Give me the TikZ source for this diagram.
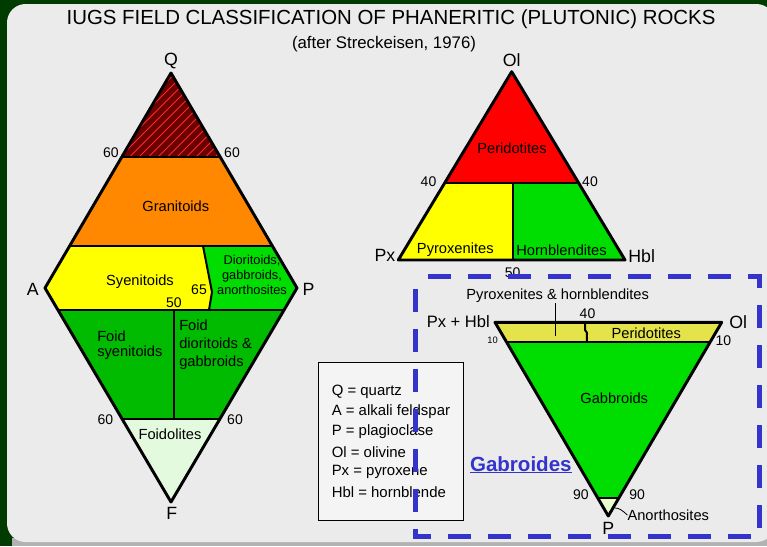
\documentclass[tikz,border=0pt]{standalone}
\usepackage{fontspec}
\setmainfont{Liberation Sans}
\definecolor{bggreen}{HTML}{003C00}
\definecolor{panel}{HTML}{EBEBEB}
\definecolor{qred}{HTML}{6A0000}
\definecolor{hatchred}{HTML}{FF2A2A}
\definecolor{granit}{HTML}{FF8800}
\definecolor{yel}{HTML}{FFFF00}
\definecolor{brightgreen}{HTML}{00DD00}
\definecolor{foidgreen}{HTML}{00BB00}
\definecolor{palegreen}{HTML}{E4FADF}
\definecolor{olivey}{HTML}{E4E44A}
\definecolor{anorcol}{HTML}{EAFFCC}
\definecolor{dashblue}{HTML}{3434CC}
\definecolor{legendbg}{HTML}{F4F4F4}
\begin{document}
\begin{tikzpicture}[x=0.75pt,y=-0.75pt,
  outline/.style={draw=black,line width=2.2pt,line join=round},
  divider/.style={draw=black,line width=1.5pt},
  lbl/.style={inner sep=0pt,font=\fontsize{11}{13}\selectfont},
  smalllbl/.style={inner sep=0pt,font=\fontsize{9.6}{11.2}\selectfont},
  corner/.style={inner sep=0pt,font=\fontsize{13.3}{15}\selectfont},
  num/.style={inner sep=0pt,font=\fontsize{10.5}{12}\selectfont},
  tiny/.style={inner sep=0pt,font=\fontsize{7}{8}\selectfont},
  legendtxt/.style={inner sep=0pt,anchor=west,font=\fontsize{11.2}{13}\selectfont},
]
\useasboundingbox (0,0) rectangle (767,546);
% background
\fill[bggreen] (0,0) rectangle (767,546);
\fill[gray!60] (12,538) rectangle (767,546);
\fill[panel,rounded corners=14] (7,4) rectangle (775,542);

% title
\node[inner sep=0pt,font=\fontsize{15.3}{17}\selectfont] (title) at (391,19) {IUGS FIELD CLASSIFICATION OF PHANERITIC (PLUTONIC) ROCKS};
\node[inner sep=0pt,font=\fontsize{12.6}{15}\selectfont] (subtitle) at (384,44) {(after Streckeisen, 1976)};

% ---------------- QAPF diamond ----------------
\coordinate (Q) at (171,73);
\coordinate (A) at (45,288);
\coordinate (P) at (297,288);
\coordinate (F) at (171,502);
\coordinate (Ql) at (121.8,157);
\coordinate (Qr) at (220.2,157);
\coordinate (Gl) at (69.6,246);
\coordinate (Gr) at (272.4,246);
\coordinate (D1) at (203,246);
\coordinate (D2) at (212,292);
\coordinate (D3) at (209,310);
\coordinate (Ll) at (58,310);
\coordinate (Lr) at (284,310);
\coordinate (Lm) at (174,310);
\coordinate (Fl) at (122.1,419);
\coordinate (Fr) at (219.9,419);
\coordinate (Fm) at (174,419);

\fill[qred] (Q) -- (Qr) -- (Ql) -- cycle;
\begin{scope}
\clip (Q) -- (Qr) -- (Ql) -- cycle;
\foreach \i in {0,...,24} \draw[hatchred,line width=0.6pt] (20+\i*9.5,162) -- ++(100,-100);
\end{scope}
\fill[granit] (Ql) -- (Qr) -- (Gr) -- (Gl) -- cycle;
\fill[yel] (Gl) -- (D1) -- (D2) -- (D3) -- (Ll) -- (A) -- cycle;
\fill[brightgreen] (D1) -- (Gr) -- (P) -- (Lr) -- (D3) -- (D2) -- cycle;
\fill[foidgreen] (Ll) -- (Lr) -- (Fr) -- (Fl) -- cycle;
\fill[palegreen] (Fl) -- (Fr) -- (F) -- cycle;
\draw[divider] (Ql) -- (Qr);
\draw[divider] (Gl) -- (Gr);
\draw[divider] (D1) -- (D2) -- (D3);
\draw[divider] (Ll) -- (Lr);
\draw[divider] (Lm) -- (Fm);
\draw[divider] (Fl) -- (Fr);
\draw[outline] (Q) -- (P) -- (F) -- (A) -- cycle;

\node[corner] (lQ) at (171,61) {Q};
\node[corner] (lA) at (32.7,289.5) {A};
\node[corner] (lP) at (308.5,289) {P};
\node[corner] (lF) at (171.7,513.5) {F};
\node[num] (n60a) at (111,153) {60};
\node[num] (n60b) at (232,153) {60};
\node[lbl] (granitoids) at (175.8,206) {Granitoids};
\node[lbl] (syenitoids) at (140,282) {Syenitoids};
\node[num] (n65) at (199,290) {65};
\node[num] (n50a) at (174,303) {50};
\node[smalllbl,align=center] (diorit) at (252,274.5) {Dioritoids,\\gabbroids,\\anorthosites};
\node[lbl,anchor=west,align=left] (foidsy) at (97,345) {Foid\\[-1.5pt]syenitoids};
\node[lbl,anchor=west,align=left] (foiddi) at (179,345) {Foid\\[0.5pt]dioritoids \&\\[0.5pt]gabbroids};
\node[num] (n60c) at (105.5,419.5) {60};
\node[num] (n60d) at (235,419.5) {60};
\node[lbl] (foidolites) at (170,434.5) {Foidolites};

% ---------------- Ol-Px-Hbl (top right) ----------------
\coordinate (Ol) at (511.7,71.7);
\coordinate (Px) at (398.3,260);
\coordinate (Hb) at (625,260);
\coordinate (Ml) at (444.5,183.3);
\coordinate (Mr) at (578.9,183.3);
\coordinate (Mm) at (513,183.3);
\coordinate (Bm) at (513,260);
\fill[red] (Ol) -- (Mr) -- (Ml) -- cycle;
\fill[yel] (Ml) -- (Mm) -- (Bm) -- (Px) -- cycle;
\fill[brightgreen] (Mm) -- (Mr) -- (Hb) -- (Bm) -- cycle;
\draw[divider] (Ml) -- (Mr);
\draw[divider] (Mm) -- (Bm);
\draw[outline] (Ol) -- (Hb) -- (Px) -- cycle;
\node[corner] (lOl) at (511.7,60.5) {Ol};
\node[corner] (lPx) at (385,255) {Px};
\node[corner] (lHbl) at (641.7,256) {Hbl};
\node[lbl] (perid1) at (512,148.5) {Peridotites};
\node[num] (n40a) at (428.5,181.5) {40};
\node[num] (n40b) at (590,181.5) {40};
\node[lbl] (pyrox) at (455.3,250) {Pyroxenites};
\node[lbl] (hornb) at (561.5,250) {Hornblendites};
\node[num] (n50b) at (512.7,273) {50};

% ---------------- Gabbroids (bottom right) ----------------
\coordinate (Tl) at (495,322.3);
\coordinate (Tr) at (721.7,322.3);
\coordinate (Tp) at (608.3,516);
\coordinate (Ul) at (506.3,341.7);
\coordinate (Ur) at (710.4,341.7);
\coordinate (Vl) at (597.5,497.5);
\coordinate (Vr) at (619.2,497.5);
\coordinate (J1) at (585,322.3);
\coordinate (J2) at (585,330);
\coordinate (J3) at (586.8,332.5);
\coordinate (J4) at (586.8,341.7);
\fill[olivey] (Tl) -- (Tr) -- (Ur) -- (Ul) -- cycle;
\fill[brightgreen] (Ul) -- (Ur) -- (Vr) -- (Vl) -- cycle;
\fill[anorcol] (Vl) -- (Vr) -- (Tp) -- cycle;
\draw[divider] (Ul) -- (Ur);
\draw[divider] (Vl) -- (Vr);
\draw[divider] (J1) -- (J2) -- (J3) -- (J4);
\draw[outline] (Tl) -- (Tr) -- (Tp) -- cycle;

\node[lbl] (pxhb) at (557.7,296) {Pyroxenites \& hornblendites};
\coordinate (pxhbend) at (555.3,336);
\draw[black,line width=0.8pt] (pxhb.south -| pxhbend) -- (pxhbend);
\node[inner sep=0pt,font=\fontsize{12.4}{14}\selectfont] (lPxHbl) at (458.3,321.7) {Px + Hbl};
\node[corner] (lOl2) at (738.3,321.7) {Ol};
\node[num] (n40c) at (587.5,314) {40};
\node[lbl] (perid2) at (646.3,333.3) {Peridotites};
\node[tiny] (n10a) at (492.5,340) {10};
\node[num] (n10b) at (723.3,341) {10};
\node[lbl] (gabbroids) at (614.2,398.5) {Gabbroids};
\node[num] (n90a) at (580.8,495) {90};
\node[num] (n90b) at (637.2,495) {90};
\node[lbl] (anorth) at (668.3,515) {Anorthosites};
\coordinate (anend) at (615,508);
\draw[black,line width=0.6pt] (anorth.west) .. controls (622,510) and (619,508) .. (anend);
\node[corner] (lP2) at (608.3,528.5) {P};

% legend
\node[draw=black,line width=0.8pt,fill=legendbg,minimum width=108.75pt,minimum height=118.7pt,inner sep=0pt,anchor=north west] (legendbox) at (318.3,361.7) {};
\node[legendtxt] (lg1) at (331.5,391.7) {Q = quartz};
\node[legendtxt] (lg2) at (331.5,411.7) {A = alkali feldspar};
\node[legendtxt] (lg3) at (331.5,431.7) {P = plagioclase};
\node[legendtxt] (lg4) at (331.5,451.7) {Ol = olivine};
\node[legendtxt] (lg5) at (331.5,471.7) {Px = pyroxene};
\node[legendtxt] (lg6) at (331.5,492) {Hbl = hornblende};

% Gabroides link
\node[inner sep=0pt,text=dashblue,font=\fontsize{15.4}{17}\bfseries\selectfont] (gabroides) at (520.8,464) {Gabroides};
\draw[dashblue,line width=1.1pt] (469.5,472.5) -- (571.7,472.5);

% dashed box
\draw[dashblue,line width=3.8pt,dash pattern=on 17.25pt off 12.75pt,dash phase=-9pt] (415.7,276.7) rectangle (759.3,536.7);
\end{tikzpicture}
\end{document}
